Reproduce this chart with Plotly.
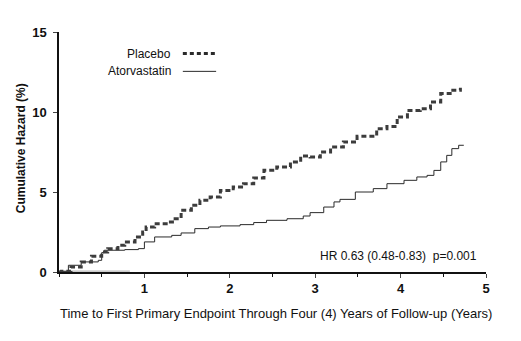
import plotly.graph_objects as go

# Data
placebo_x = [0, 0.03, 0.14, 0.26, 0.38, 0.50, 0.57, 0.69, 0.77, 0.89, 0.98, 1.02, 1.12, 1.28, 1.36,
             1.43, 1.55, 1.65, 1.77, 1.89, 2.04, 2.16, 2.28, 2.40, 2.55, 2.71, 2.83, 2.94, 3.06,
             3.18, 3.33, 3.49, 3.61, 3.72, 3.84, 3.96, 4.08, 4.23, 4.35, 4.47, 4.58, 4.70]
placebo_y = [0, 0.04, 0.31, 0.63, 0.98, 1.25, 1.46, 1.67, 1.88, 2.19, 2.50, 2.81, 3.02, 3.13, 3.33,
             3.86, 4.17, 4.48, 4.69, 5.10, 5.31, 5.52, 5.88, 6.36, 6.56, 6.88, 7.25, 7.19, 7.50,
             7.81, 8.13, 8.48, 8.48, 8.96, 9.10, 9.69, 10.10, 10.21, 10.63, 11.15, 11.36, 11.52]

atorva_x = [0, 0.03, 0.11, 0.26, 0.46, 0.50, 0.53, 0.77, 0.93, 1.00, 1.12, 1.32, 1.43, 1.59, 1.75,
            1.89, 2.12, 2.28, 2.43, 2.67, 2.86, 2.94, 3.10, 3.22, 3.29, 3.47, 3.68, 3.84, 4.04,
            4.19, 4.31, 4.39, 4.47, 4.54, 4.60, 4.68, 4.74]
atorva_y = [0, 0.04, 0.42, 0.63, 0.73, 1.21, 1.36, 1.40, 1.46, 1.88, 2.19, 2.29, 2.44, 2.71, 2.81,
            2.88, 2.96, 3.09, 3.23, 3.33, 3.50, 3.71, 4.06, 4.38, 4.54, 5.00, 5.21, 5.52, 5.73,
            5.94, 6.04, 6.35, 6.88, 7.29, 7.71, 7.92, 7.92]

artifact_x = [0, 0.83]
artifact_y = [0.06, 0.06]

x_ticks = [1, 2, 3, 4, 5]
y_ticks = [0, 5, 10, 15]

legend_names = ["Placebo", "Atorvastatin"]
hr_text = "HR 0.63 (0.48-0.83)  p=0.001"
x_title = "Time to First Primary Endpoint Through Four (4) Years of Follow-up (Years)"
y_title = "Cumulative Hazard (%)"

FONT = "Liberation Sans, Arial, sans-serif"
fig = go.Figure()
fig.add_trace(go.Scatter(x=artifact_x, y=artifact_y, mode="lines",
                         line=dict(color="#b8b8b8", width=1.2), showlegend=False, hoverinfo="skip"))
fig.add_trace(go.Scatter(x=atorva_x, y=atorva_y, mode="lines", line_shape="hv",
                         line=dict(color="#2a2a2a", width=1), name=legend_names[1], showlegend=False))
fig.add_trace(go.Scatter(x=placebo_x, y=placebo_y, mode="lines", line_shape="hv",
                         line=dict(color="#3c3c3c", width=3, dash="5px,3px"), name=legend_names[0],
                         showlegend=False))

# legend built by hand (text left of sample)
leg_y = [13.65, 12.54]
for name, yy, dash, w in zip(legend_names, leg_y, ["4px,3px", "solid"], [3, 1]):
    fig.add_annotation(x=1.33, y=yy, text=name, showarrow=False, xanchor="right", yanchor="middle",
                       font=dict(family=FONT, size=12, color="#111"))
    fig.add_shape(type="line", x0=1.45, x1=1.84, y0=yy, y1=yy,
                  line=dict(color="#2a2a2a", width=w, dash=dash))

fig.add_annotation(x=4.92, y=0.98, text=hr_text, showarrow=False, xanchor="right", yanchor="middle",
                   font=dict(family=FONT, size=12, color="#111"))
fig.add_annotation(xref="paper", yref="paper", x=-0.087, y=0.515, text=y_title, textangle=-90,
                   showarrow=False, xanchor="center", yanchor="middle",
                   font=dict(family=FONT, size=12, color="#111", weight="bold"))
fig.add_annotation(xref="paper", yref="paper", x=0.508, y=-0.172, text=x_title,
                   showarrow=False, xanchor="center", yanchor="middle",
                   font=dict(family=FONT, size=13, color="#111"))

fig.update_layout(
    width=521, height=341,
    margin=dict(l=59, r=35, t=32, b=69),
    plot_bgcolor="white", paper_bgcolor="white",
    xaxis=dict(range=[0, 5], tickvals=x_ticks, ticks="outside", ticklen=4, tickwidth=1.2,
               showline=True, linecolor="#111", linewidth=1.5, showgrid=False, zeroline=False,
               minor=dict(dtick=0.5, ticks="outside", ticklen=3, tickcolor="#111", showgrid=False),
               tickfont=dict(family=FONT, size=13, color="#111", weight="bold"), fixedrange=True),
    yaxis=dict(range=[0, 15], tickvals=y_ticks, ticks="outside", ticklen=4, tickwidth=1.2,
               showline=True, linecolor="#111", linewidth=1.5, showgrid=False, zeroline=False,
               ticklabelstandoff=4,
               tickfont=dict(family=FONT, size=13, color="#111", weight="bold"), fixedrange=True),
)
fig.write_html("out.html")
